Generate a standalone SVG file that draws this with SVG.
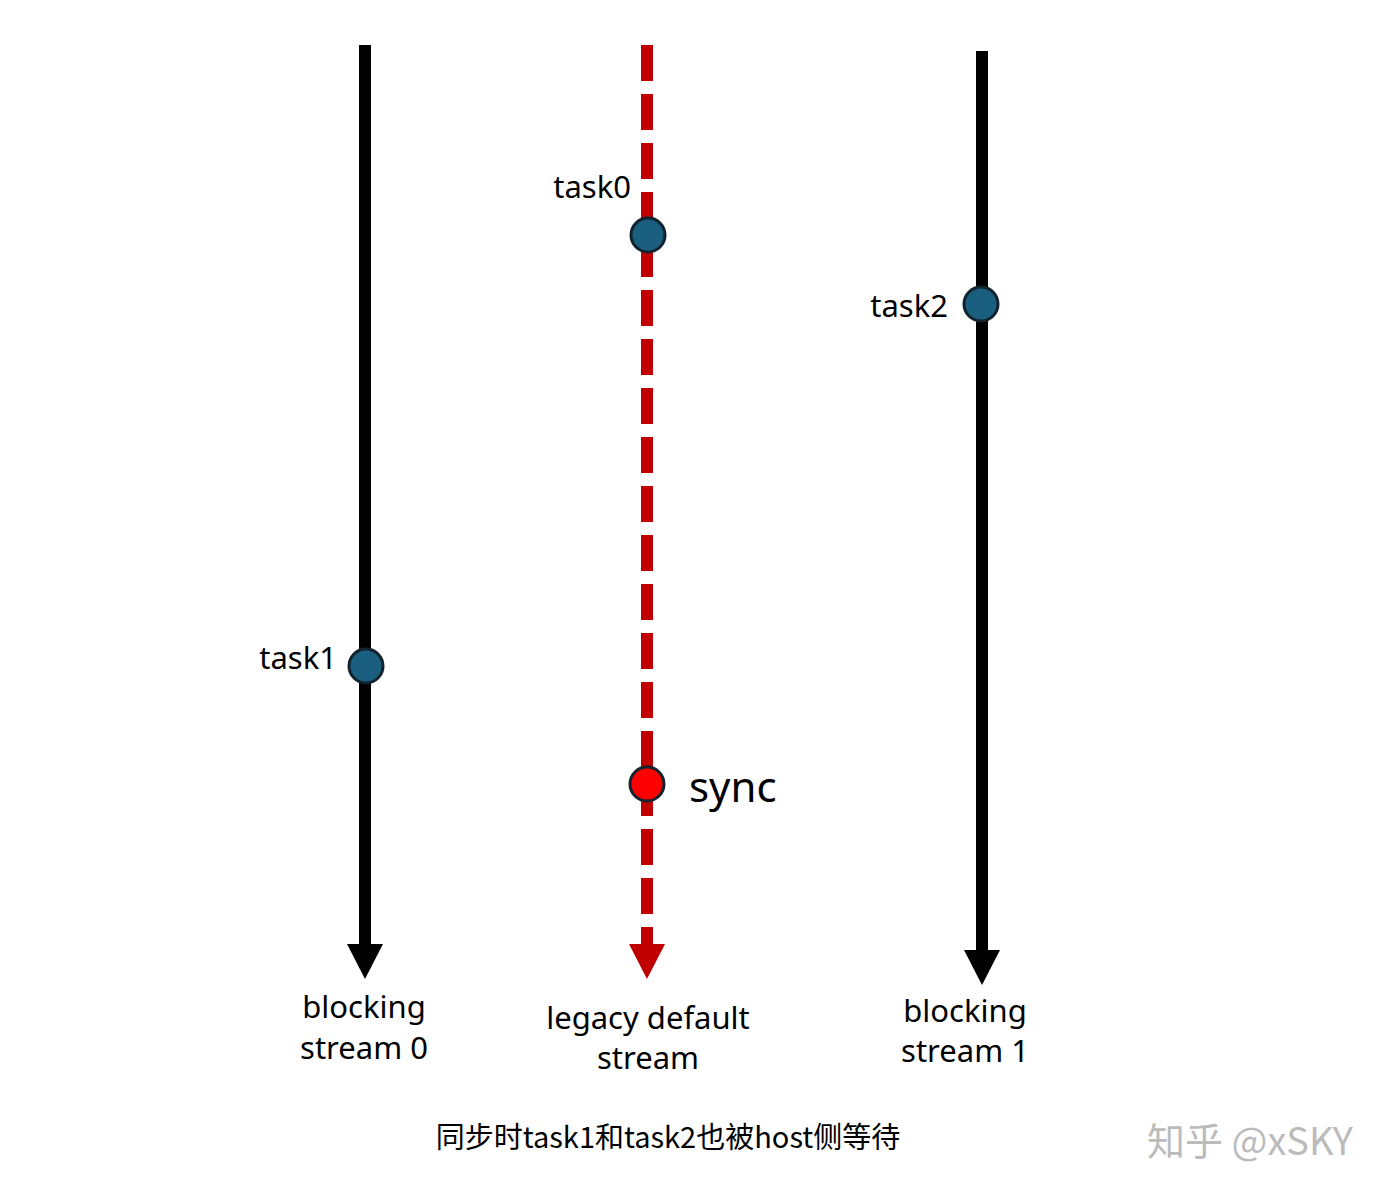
<svg xmlns="http://www.w3.org/2000/svg" width="1400" height="1196" viewBox="0 0 1400 1196">
<style>
.t{font-family:"Noto Sans","Liberation Sans",sans-serif;fill:#000}
.l{font-size:31px}
.n{fill:#1a5e80;stroke:#12232e;stroke-width:3}
</style>
<rect width="1400" height="1196" fill="#fff"/>
<g id="connectors">
<line x1="365" y1="45" x2="365" y2="948" stroke="#000" stroke-width="12"/>
<polygon points="347,944 383,944 365,979" fill="#000"/>
<line x1="647" y1="45" x2="647" y2="944" stroke="#c00000" stroke-width="12" stroke-dasharray="36,13"/>
<polygon points="629,944 665,944 647,979" fill="#c00000"/>
<line x1="982" y1="51" x2="982" y2="952" stroke="#000" stroke-width="12"/>
<polygon points="964,950 1000,950 982,985" fill="#000"/>
</g>
<g id="task0"><circle class="n" cx="648" cy="235" r="17"/><text class="t l" x="631" y="198" text-anchor="end">task0</text></g>
<g id="task2"><circle class="n" cx="981" cy="304" r="17"/><text class="t l" x="948" y="317" text-anchor="end">task2</text></g>
<g id="task1"><circle class="n" cx="366" cy="666" r="17"/><text class="t l" x="337" y="669" text-anchor="end">task1</text></g>
<g id="sync"><circle cx="647" cy="784" r="17" fill="#f00" stroke="#12232e" stroke-width="3"/><text class="t" font-size="42" x="689" y="802">sync</text></g>
<g id="labels">
<text class="t l" text-anchor="middle"><tspan x="364" y="1018">blocking</tspan><tspan x="364" y="1059">stream 0</tspan></text>
<text class="t l" text-anchor="middle"><tspan x="648" y="1029">legacy default</tspan><tspan x="648" y="1069">stream</tspan></text>
<text class="t l" text-anchor="middle"><tspan x="965" y="1022">blocking</tspan><tspan x="965" y="1062">stream 1</tspan></text>
<text x="668" y="1148" text-anchor="middle" font-size="29" font-family="Noto Sans CJK SC,sans-serif">同步时task1和task2也被host侧等待</text>
<text x="1250" y="1155" text-anchor="middle" font-size="38" fill="#bbb" font-family="Noto Sans CJK SC,sans-serif">知乎 @xSKY</text>
</g>
</svg>
